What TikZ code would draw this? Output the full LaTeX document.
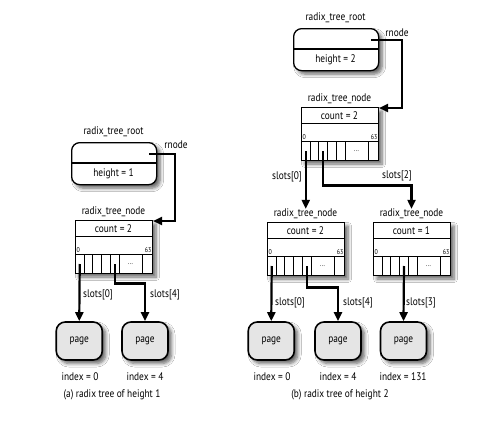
\documentclass[tikz,border=0pt]{standalone}
\usepackage{fontspec}
\setmainfont{PT Sans}[FakeStretch=0.85]
\usetikzlibrary{arrows.meta,shadows.blur,calc}

\definecolor{pagegray}{gray}{0.90}

\tikzset{
  lbl/.style={font=\fontsize{11}{13}\selectfont, inner sep=0pt},
  tinylbl/.style={font=\fontsize{7}{8}\selectfont, inner sep=0pt},
  shadowed/.style={blur shadow={shadow xshift=3.5pt, shadow yshift=-3.5pt,
      shadow blur radius=3.5pt, shadow blur steps=6, shadow opacity=60}},
  rtbox/.style={draw, line width=1pt, fill=white, minimum width=77pt,
      minimum height=53pt, inner sep=0pt, shadowed},
  slotcell/.style={draw, line width=1pt, minimum height=19pt, inner sep=0pt},
  rootbox/.style={draw, line width=1.3pt, rounded corners=8pt, fill=white,
      minimum width=85pt, minimum height=42pt, inner sep=0pt, shadowed},
  pagebox/.style={draw, line width=1.6pt, rounded corners=9pt, fill=pagegray,
      minimum width=46pt, minimum height=38pt, inner sep=0pt, shadowed,
      font=\fontsize{11}{13}\selectfont},
  ptr/.style={line width=2.2pt, -{Triangle[length=9pt,width=8pt]}},
}

% radix_tree_node: #1 name, #2 left, #3 top, #4 count
\newcommand{\treenode}[4]{%
  \node[lbl] (#1-title) at ({#2+38.5},{#3-8}) {radix\_tree\_node};
  \node[rtbox, anchor=north west] (#1) at (#2,#3) {};
  \draw[line width=1pt] ({#2},{#3+16}) -- ({#2+77},{#3+16});
  \node[lbl] (#1-count) at ({#2+38.5},{#3+8.5}) {count = #4};
  \node[tinylbl, anchor=south west] (#1-lo) at ({#2+1.5},{#3+33}) {0};
  \node[tinylbl, anchor=south east] (#1-hi) at ({#2+76.5},{#3+33}) {63};
  \foreach \a/\b [count=\i from 0] in {0/8.5, 8.5/17, 17/26, 26/35, 35/43.5} {
    \node[slotcell, minimum width={\b-\a}, anchor=north west] (#1-s\i) at ({#2+\a},{#3+34}) {};
  }
  \node[slotcell, minimum width=23pt, anchor=north west, tinylbl, minimum height=19pt]
    (#1-dots) at ({#2+43.5},{#3+34}) {...};
  \node[slotcell, minimum width=10.5pt, anchor=north west] (#1-s63) at ({#2+66.5},{#3+34}) {};
}

% radix_tree_root: #1 name, #2 left, #3 top, #4 height
\newcommand{\treeroot}[4]{%
  \node[lbl] (#1-title) at ({#2+42.5},{#3-10}) {radix\_tree\_root};
  \node[rootbox, anchor=north west] (#1) at (#2,#3) {};
  \draw[line width=1.3pt] ({#2},{#3+21}) -- ({#2+85},{#3+21});
  \node[lbl] (#1-height) at ({#2+42.5},{#3+31.5}) {height = #4};
  \coordinate (#1-ptr) at ({#2+78},{#3+12});
}

\begin{document}
\begin{tikzpicture}[x=1pt, y=-1pt]
  \useasboundingbox[fill=white] (0,0) rectangle (496,426);

  % ---------- (a) tree of height 1 ----------
  \treeroot{ra}{71}{142}{1}
  \treenode{na}{75}{220}{2}
  \node[lbl] (ra-rnode) at (176,145) {rnode};
  \draw[ptr] (ra-ptr) -- ++(26,0) |- ([yshift=-1pt]na.north east);

  \node[pagebox] (pa0) at (79.25,341) {page};
  \node[pagebox] (pa4) at (145,341) {page};
  \draw[ptr] (na-s0.center) -- (pa0.north);
  \draw[ptr] (na-s4.center) -- ++(0,19.5) -| (pa4.north);
  \node[lbl] (la0) at (98,295) {slots[0]};
  \node[lbl] (la4) at (165,295) {slots[4]};

  \node[lbl] (ia0) at (80,377) {index = 0};
  \node[lbl] (ia4) at (145,377) {index = 4};
  \node[lbl] (capa) at (112,395) {(a) radix tree of height 1};

  % ---------- (b) tree of height 2 ----------
  \treeroot{rb}{293}{28}{2}
  \treenode{nb}{301}{107}{2}
  \node[lbl] (rb-rnode) at (397,33) {rnode};
  \draw[ptr] (rb-ptr) -- ++(31,0) |- ([yshift=-1pt]nb.north east);

  \treenode{nc}{267}{222}{2}
  \treenode{nd}{373}{222}{1}
  \draw[ptr] (nb-s0.center) -- (nb-s0.center |- nc-title.north);
  \draw[ptr] (nb-s2.center) -- ++(0,34.5) -| (nd-title.north);
  \node[lbl] (lb0) at (287,177) {slots[0]};
  \node[lbl] (lb2) at (397,176) {slots[2]};

  \node[pagebox] (pb0) at (271.25,341) {page};
  \node[pagebox] (pb4) at (338,341) {page};
  \node[pagebox] (pb131) at (403.5,341) {page};
  \draw[ptr] (nc-s0.center) -- (pb0.north);
  \draw[ptr] (nc-s4.center) -- ++(0,21.5) -| (pb4.north);
  \draw[ptr] (nd-s3.center) -- (pb131.north);
  \node[lbl] (lc0) at (290,303) {slots[0]};
  \node[lbl] (lc4) at (358,303) {slots[4]};
  \node[lbl] (ld3) at (421,303) {slots[3]};

  \node[lbl] (ib0) at (272,377) {index = 0};
  \node[lbl] (ib4) at (338,377) {index = 4};
  \node[lbl] (ib131) at (403,377) {index = 131};
  \node[lbl] (capb) at (340,395) {(b) radix tree of height 2};
\end{tikzpicture}
\end{document}
